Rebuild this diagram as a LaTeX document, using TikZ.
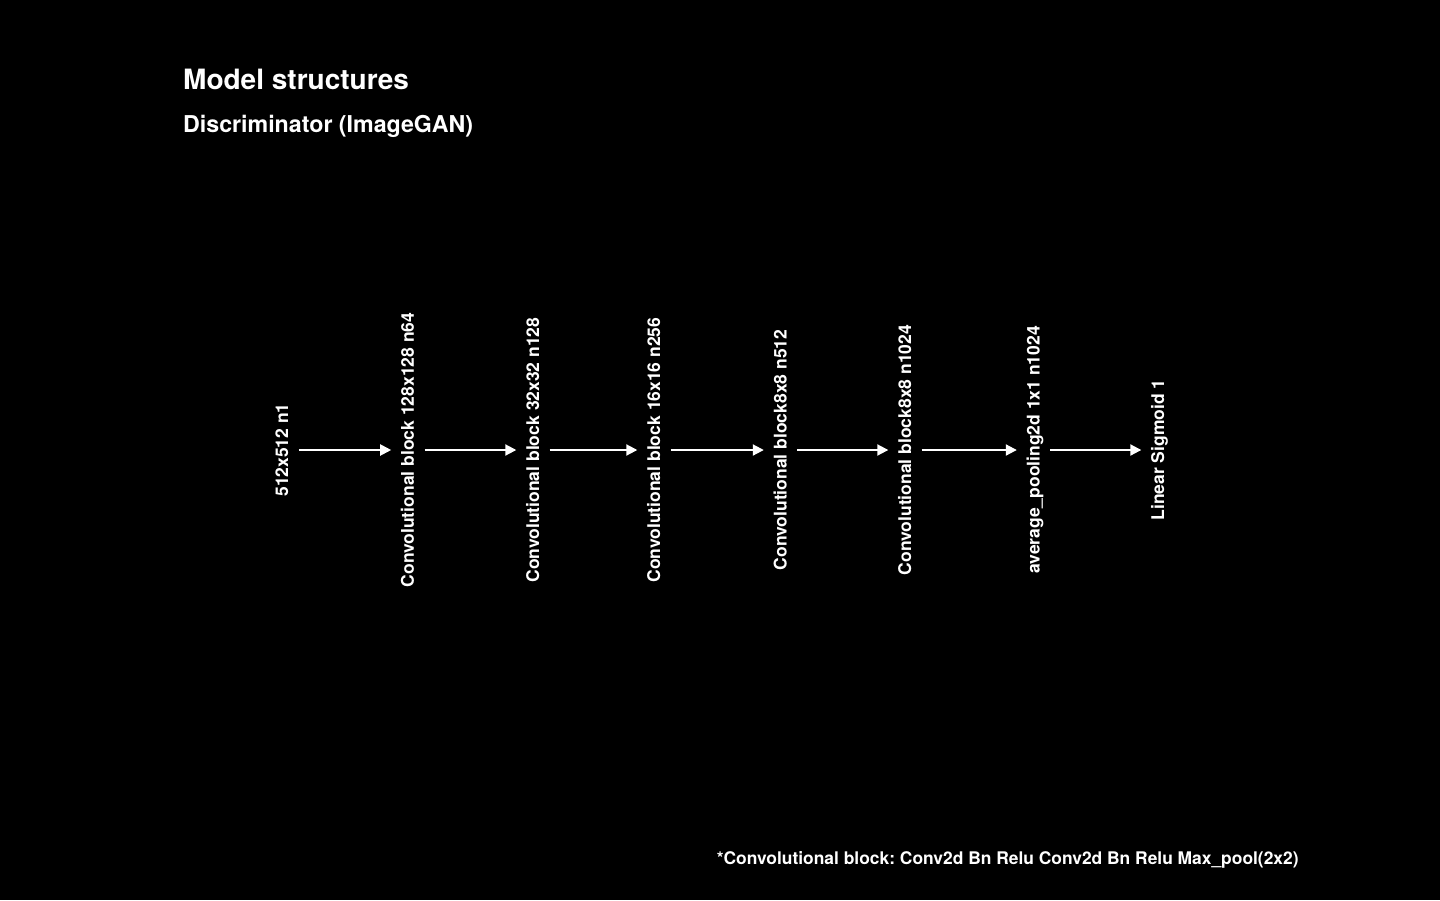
\documentclass[tikz,border=0pt]{standalone}
\usepackage{fontspec}
\setmainfont{TeX Gyre Heros}
\usetikzlibrary{arrows.meta}
\frenchspacing

\begin{document}
\begin{tikzpicture}[
    x=1pt, y=-1pt,
% Text styles
    title/.style={anchor=base west, inner sep=0pt, text=white, font=\bfseries\fontsize{28}{33}\selectfont},
    subtitle/.style={anchor=base west, inner sep=0pt, text=white, font=\bfseries\fontsize{23.2}{27}\selectfont},
    layer/.style={rotate=90, anchor=base, text=white, inner xsep=0pt, inner ysep=10pt, text height=12.5pt, text depth=0.5pt, font=\bfseries\fontsize{17.5}{21}\selectfont},
    note/.style={anchor=base west, inner sep=0pt, text=white, font=\bfseries\fontsize{17.4}{21}\selectfont},
% Arrow style
    flow/.style={-{Triangle[length=11pt, width=11pt]}, line width=2pt, white}
]
\fill[black] (0,0) rectangle (1440,900);
\useasboundingbox (0,0) rectangle (1440,900);

% Headings
\node[title] (head) at (183, 89) {Model structures};
\node[subtitle] (sub) at (183, 132.3) {Discriminator (ImageGAN)};

% Layers
\node[layer] (input) at (288.2, 450) {512x512 n1};
\node[layer] (conv1) at (413.9, 450) {Convolutional block 128x128 n64};
\node[layer] (conv2) at (539, 450) {Convolutional block 32x32 n128};
\node[layer] (conv3) at (660, 450) {Convolutional block 16x16 n256};
\node[layer] (conv4) at (786.5, 450) {Convolutional block8x8 n512};
\node[layer] (conv5) at (911, 450) {Convolutional block8x8 n1024};
\node[layer] (pool) at (1039.5, 450) {average\_pooling2d 1x1 n1024};
\node[layer] (linear) at (1164, 450) {Linear Sigmoid 1};

% Arrows between layers
\draw[flow] (input.south) -- (conv1.north);
\draw[flow] (conv1.south) -- (conv2.north);
\draw[flow] (conv2.south) -- (conv3.north);
\draw[flow] (conv3.south) -- (conv4.north);
\draw[flow] (conv4.south) -- (conv5.north);
\draw[flow] (conv5.south) -- (pool.north);
\draw[flow] (pool.south) -- (linear.north);

% Footnote
\node[note] (foot) at (716.7, 864.3) {*Convolutional block: Conv2d Bn Relu Conv2d Bn Relu Max\_pool(2x2)};

\end{tikzpicture}
\end{document}
